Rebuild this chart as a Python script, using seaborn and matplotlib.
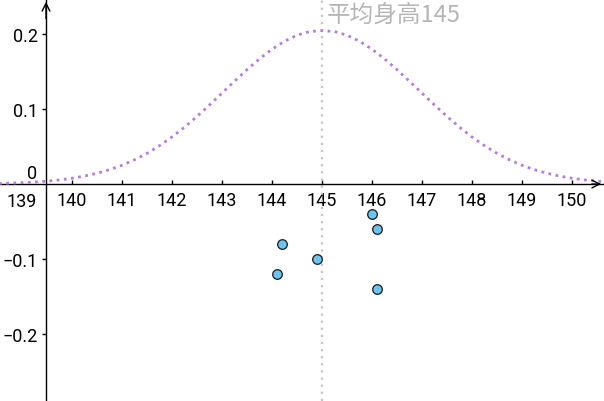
import matplotlib
matplotlib.use("Agg")
import matplotlib.pyplot as plt
import seaborn as sns
import pandas as pd

# ---- data ----
curve_x = [138.50, 138.75, 139.00, 139.25, 139.50, 139.75, 140.00, 140.25, 140.50, 140.75,
           141.00, 141.25, 141.50, 141.75, 142.00, 142.25, 142.50, 142.75, 143.00, 143.25,
           143.50, 143.75, 144.00, 144.25, 144.50, 144.75, 145.00, 145.25, 145.50, 145.75,
           146.00, 146.25, 146.50, 146.75, 147.00, 147.25, 147.50, 147.75, 148.00, 148.25,
           148.50, 148.75, 149.00, 149.25, 149.50, 149.75, 150.00, 150.25, 150.50, 150.75]
curve_y = [0.0008, 0.0012, 0.0018, 0.0026, 0.0038, 0.0055, 0.0077, 0.0106, 0.0143, 0.0191,
           0.0250, 0.0323, 0.0409, 0.0511, 0.0628, 0.0758, 0.0901, 0.1054, 0.1212, 0.1370,
           0.1525, 0.1669, 0.1797, 0.1904, 0.1984, 0.2033, 0.2045, 0.2033, 0.1984, 0.1904,
           0.1797, 0.1669, 0.1525, 0.1370, 0.1212, 0.1054, 0.0901, 0.0758, 0.0628, 0.0511,
           0.0409, 0.0323, 0.0250, 0.0191, 0.0143, 0.0106, 0.0077, 0.0055, 0.0038, 0.0026]
points_x = [146.0, 146.1, 144.2, 144.9, 144.1, 146.1]
points_y = [-0.04, -0.06, -0.08, -0.10, -0.12, -0.14]
x_ticks = [140, 141, 142, 143, 144, 145, 146, 147, 148, 149, 150]
y_ticks = [-0.2, -0.1, 0.1, 0.2]
y_tick_labels = ["\u22120.2", "\u22120.1", "0.1", "0.2"]
mean_value = 145
mean_label = "平均身高145"

sns.set_theme(style="white")
plt.rcParams["font.family"] = ["Roboto", "DejaVu Sans"]

fig = plt.figure(figsize=(6.04, 4.02), dpi=100)
ax = fig.add_axes([0, 0, 1, 1])
x0, x1 = 138.56, 150.64
y0, y1 = -0.2893, 0.2467
yaxis_x = 139.48
ax.set_xlim(x0, x1)
ax.set_ylim(y0, y1)

curve = pd.DataFrame({"x": curve_x, "y": curve_y})
pts = pd.DataFrame({"x": points_x, "y": points_y})

ax.axvline(mean_value, color="#c4c4c4", lw=1.6, ls=(0, (1, 2.2)), zorder=1)
sns.lineplot(data=curve, x="x", y="y", ax=ax, color="#b37fd9", lw=2.0,
             ls=(0, (1, 1.6)), zorder=3)
sns.scatterplot(data=pts, x="x", y="y", ax=ax, color="#6cc3ec", edgecolor="#1a1a1a",
                linewidth=0.9, s=48, zorder=5)

for s in ax.spines.values():
    s.set_visible(False)
ax.spines["left"].set_visible(True)
ax.spines["bottom"].set_visible(True)
ax.spines["left"].set_position(("data", yaxis_x))
ax.spines["bottom"].set_position(("data", 0))
ax.spines["left"].set_color("black")
ax.spines["bottom"].set_color("black")
ax.spines["left"].set_linewidth(1.0)
ax.spines["bottom"].set_linewidth(1.0)

ax.set_xticks(x_ticks)
ax.set_xticklabels([str(t) for t in x_ticks])
ax.set_yticks(y_ticks)
ax.set_yticklabels(y_tick_labels)
ax.tick_params(axis="x", direction="in", length=3, width=1, colors="black",
               labelsize=13, pad=5, bottom=True)
ax.tick_params(axis="y", direction="out", length=3, width=1, colors="black",
               labelsize=13, pad=3, left=True)
ax.set_xlabel("")
ax.set_ylabel("")

ax.text(139, -0.011, "139", ha="center", va="top", fontsize=13, color="black")
ax.text(yaxis_x - 0.18, 0.003, "0", ha="right", va="bottom", fontsize=13, color="black")

# axis arrows
ax.annotate("", xy=(x1, 0), xytext=(x1 - 0.3, 0),
            arrowprops=dict(arrowstyle="->", color="black", lw=1.0, mutation_scale=14))
ax.annotate("", xy=(yaxis_x, y1), xytext=(yaxis_x, y1 - 0.03),
            arrowprops=dict(arrowstyle="->", color="black", lw=1.0, mutation_scale=14))

ax.text(mean_value + 0.1, 0.226, mean_label, ha="left", va="center", fontsize=17,
        color="#b5b5b5", family=["Noto Sans CJK SC", "DejaVu Sans"])

fig.savefig("out.png", dpi=100)
